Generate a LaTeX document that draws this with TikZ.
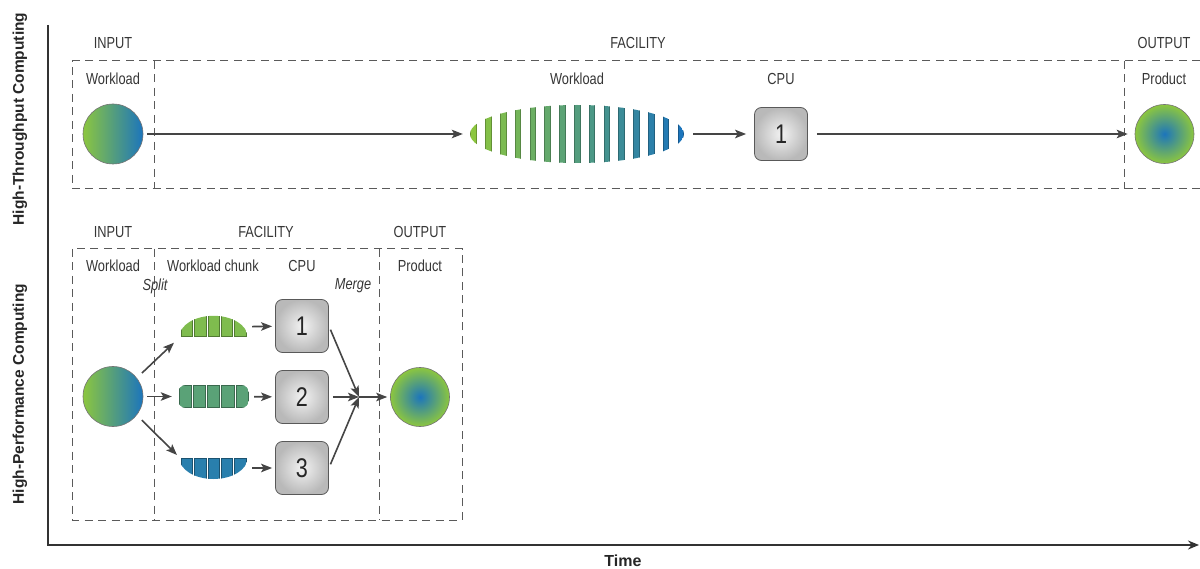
\documentclass[tikz,border=0pt]{standalone}
\usepackage{fontspec}
\setmainfont{Liberation Sans}[FakeStretch=0.8]
\newfontfamily\axfont{Liberation Sans}
\usetikzlibrary{shapes.geometric,arrows.meta}
\definecolor{grn}{HTML}{8CC63F}
\definecolor{blu}{HTML}{1C75BC}
\definecolor{txt}{HTML}{363636}
\definecolor{dsh}{HTML}{5A5A5A}
\definecolor{arr}{HTML}{454545}
\colorlet{chA}{blu!12!grn}
\colorlet{chB}{blu!45!grn}
\colorlet{chC}{blu!88!grn}
\tikzset{
  lbl/.style={text=txt, font=\fontsize{16}{19}\selectfont, inner sep=0pt},
  itl/.style={text=txt, font=\fontsize{16}{19}\selectfont\itshape, inner sep=0pt},
  axl/.style={text=black!85, font=\axfont\bfseries\fontsize{15.5}{18}\selectfont, inner sep=0pt},
  axln/.style={draw=black!80, line width=2pt},
  dbox/.style={draw=dsh, line width=1pt, dash pattern=on 8pt off 5.5pt},
  conn/.style={draw=arr, line width=1.6pt, -{Stealth[length=11pt,width=8.5pt,inset=2.5pt]}},
  inball/.style={circle, minimum size=60pt, inner sep=0pt, draw=black!55, line width=0.6pt, left color=grn, right color=blu},
  outball/.style={circle, minimum size=59pt, inner sep=0pt, draw=black!55, line width=0.6pt, inner color=blu, outer color=grn},
  cpu/.style={rectangle, rounded corners=7pt, minimum size=53pt, inner sep=0pt, draw=black!65, line width=0.8pt, inner color=gray!10, outer color=gray!55, font=\fontsize{27}{30}\selectfont, text=black!85},
  chunkbox/.style={rectangle, inner sep=0pt},
}
\begin{document}
\begin{tikzpicture}[x=1pt,y=-1pt]
\useasboundingbox (0,0) rectangle (1200,569);

% axes
\coordinate (yt) at (48,25);
\coordinate (org) at (48,545);
\coordinate (xe) at (1199,545);
\draw[axln, -{Stealth[length=11pt,width=9pt]}] (yt) -- (org) -- (xe);
\node[axl, rotate=90] (htc) at (20,119) {High-Throughput Computing};
\node[axl, rotate=90] (hpc) at (20,394) {High-Performance Computing};
\node[axl, font=\axfont\bfseries\fontsize{16}{18}\selectfont] (time) at (623,561) {Time};

% ---------- top row (HTC) ----------
\draw[dbox] (1200,61) -- (72,61) -- (72,189) -- (1200,189);
\draw[dbox] (154,61) -- (154,189);
\draw[dbox] (1124,61) -- (1124,189);

\node[lbl] (tin) at (113,43) {INPUT};
\node[lbl] (tfac) at (638,43) {FACILITY};
\node[lbl] (tout) at (1164,43) {OUTPUT};
\node[lbl] (twl) at (113,79) {Workload};
\node[lbl] (twl2) at (577,79) {Workload};
\node[lbl] (tcpu) at (781,79) {CPU};
\node[lbl] (tprod) at (1164,79) {Product};

\node[inball] (in1) at (113,134) {};
\node[ellipse, minimum width=214pt, minimum height=58pt, inner sep=0pt] (wl) at (577,134) {};
\begin{scope}
  \clip (577,134) ellipse [x radius=107, y radius=29];
  \foreach \i in {0,...,14}{
    \pgfmathtruncatemacro{\p}{round(\i*100/14)}
    \colorlet{stc}{blu!\p!grn}
    \filldraw[fill=stc, draw=stc!75!black, line width=0.4pt]
      ({577+(\i-7)*14.8-2.8},100) rectangle ({577+(\i-7)*14.8+2.8},170);
  }
\end{scope}
\node[cpu] (c1) at (781,134) {1};
\node[outball] (out1) at (1164.5,134) {};

\draw[conn, shorten <=4pt, shorten >=7pt] (in1) -- (wl);
\draw[conn, shorten <=9pt, shorten >=8pt] (wl) -- (c1);
\draw[conn, shorten <=9pt, shorten >=7pt] (c1) -- (out1);

% ---------- bottom row (HPC) ----------
\draw[dbox] (72,249) rectangle (462,520);
\draw[dbox] (154,249) -- (154,520);
\draw[dbox] (379,249) -- (379,520);

\node[lbl] (bin) at (113,232) {INPUT};
\node[lbl] (bfac) at (266,232) {FACILITY};
\node[lbl] (bout) at (420,232) {OUTPUT};
\node[lbl] (bwl) at (113,266) {Workload};
\node[lbl] (bchunk) at (213,266) {Workload chunk};
\node[lbl] (bcpu) at (302,266) {CPU};
\node[lbl] (bprod) at (420,266) {Product};
\node[itl] (split) at (155,286) {Split};
\node[itl] (merge) at (353,286) {Merge};

\node[inball] (in2) at (113,396.5) {};
\node[chunkbox, minimum width=67pt, minimum height=20pt] (k1) at (213.5,327) {};
\node[chunkbox, minimum width=71pt, minimum height=23pt] (k2) at (213.5,396.5) {};
\node[chunkbox, minimum width=67pt, minimum height=20pt] (k3) at (213.5,468) {};

% chunk 1 (upper dome)
\begin{scope}
  \clip (179,314) rectangle (248,336.8);
  \clip (213.5,336.8) ellipse [x radius=34, y radius=21];
  \foreach \k in {0,...,4}{
    \filldraw[fill=chA, draw=chA!65!black, line width=0.6pt]
      ({180+\k*13.4+1},313) rectangle ({180+(\k+1)*13.4-1},336.3);
  }
\end{scope}
% chunk 2 (rounded bar)
\begin{scope}
  \clip[rounded corners=8pt] (178,385) rectangle (249,408);
  \foreach \k in {0,...,4}{
    \filldraw[fill=chB, draw=chB!65!black, line width=0.6pt]
      ({178+\k*14.2+1},385.4) rectangle ({178+(\k+1)*14.2-1},407.6);
  }
\end{scope}
% chunk 3 (lower dome)
\begin{scope}
  \clip (179,458) rectangle (248,481);
  \clip (213.5,458) ellipse [x radius=34, y radius=21];
  \foreach \k in {0,...,4}{
    \filldraw[fill=chC, draw=chC!65!black, line width=0.6pt]
      ({180+\k*13.4+1},458.4) rectangle ({180+(\k+1)*13.4-1},482);
  }
\end{scope}

\node[cpu] (p1) at (302,326) {1};
\node[cpu] (p2) at (302,397) {2};
\node[cpu] (p3) at (302,468) {3};
\coordinate (m) at (359,397);
\node[outball] (out2) at (420,397) {};

\draw[conn, shorten <=7pt, shorten >=8pt] (in2.38) -- (k1.south west);
\draw[conn, shorten <=4pt, shorten >=6pt] (in2) -- (k2);
\draw[conn, shorten <=7pt, shorten >=4pt] (in2.-38) -- (k3.north west);

\draw[conn, shorten <=5pt, shorten >=3pt] (k1) -- (p1);
\draw[conn, shorten <=5pt, shorten >=3pt] (k2) -- (p2);
\draw[conn, shorten <=5pt, shorten >=3pt] (k3) -- (p3);

\draw[conn, shorten <=4pt] (p1.east) -- (m);
\draw[conn, shorten <=4pt] (p2.east) -- (m);
\draw[conn, shorten <=4pt] (p3.east) -- (m);
\draw[conn, shorten >=3pt] (m) -- (out2);
\end{tikzpicture}
\end{document}
